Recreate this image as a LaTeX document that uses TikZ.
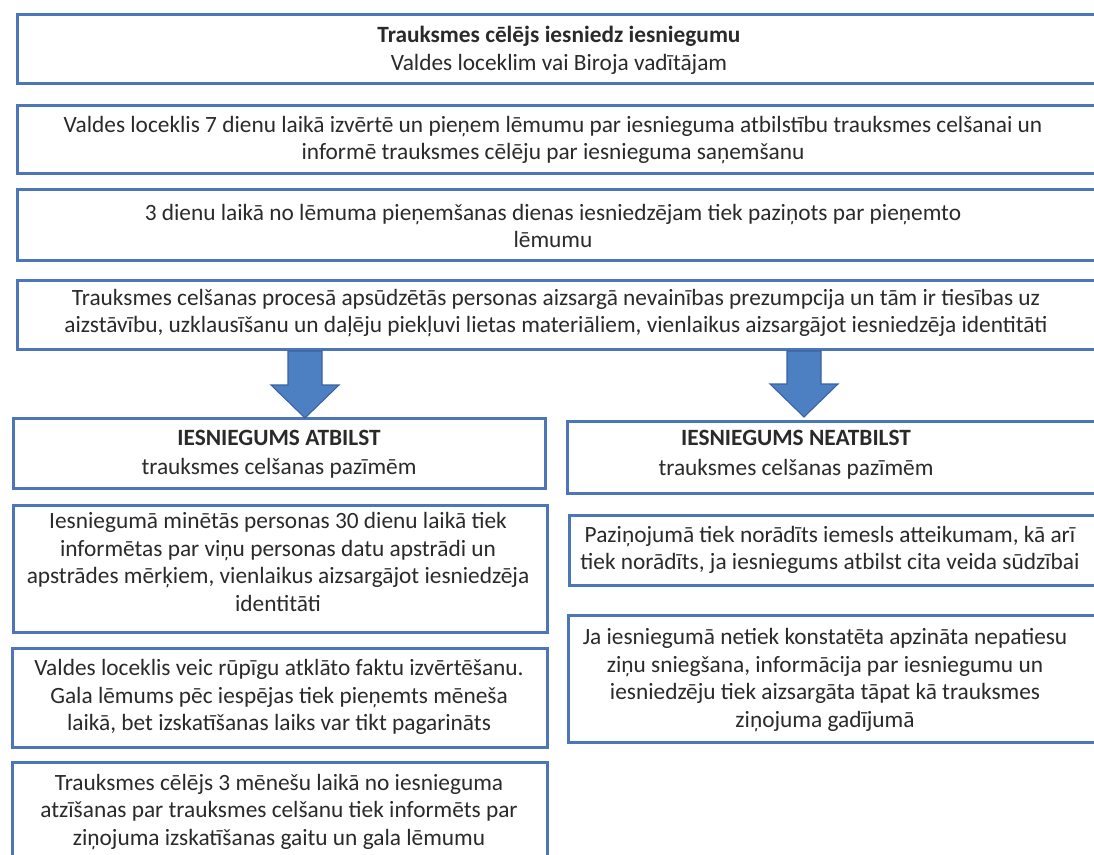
\documentclass[tikz,border=0pt]{standalone}
\usepackage{fontspec}
\setmainfont{Carlito}
\usetikzlibrary{fit}
\definecolor{boxblue}{RGB}{76,118,184}
\definecolor{arrowblue}{RGB}{76,128,194}
\definecolor{arrowedge}{RGB}{58,98,160}
\definecolor{txtc}{RGB}{42,42,42}
\begin{document}
\begin{tikzpicture}[x=0.75pt,y=-0.75pt,
  box/.style={draw=boxblue, line width=2.25pt, fill=white, inner sep=0pt},
  txt/.style={text=txtc, align=center, font=\fontsize{17.5}{20.8}\selectfont, inner sep=0pt},
  blockarrow/.style={fill=arrowblue, draw=arrowedge, line width=0.8pt, line join=miter}]
\useasboundingbox (0,0) rectangle (1094,854);
\clip (0,0) rectangle (1094,854);
\fill[white] (0,0) rectangle (1094,854);

% top boxes
\node[box, fit={(17,14) (1098,83)}] (b1) {};
\node[box, fit={(17,105) (1098,173)}] (b2) {};
\node[box, fit={(17,189) (1098,260)}] (b3) {};
\node[box, fit={(17,280) (1098,349)}] (b4) {};

% left column
\node[box, fit={(13,418) (545,488)}] (l1) {};
\node[box, fit={(13,505) (547,632)}] (l2) {};
\node[box, fit={(12,648) (547,747)}] (l3) {};
\node[box, fit={(12,762) (547,870)}] (l4) {};

% right column
\node[box, fit={(567,421) (1100,493)}] (r1) {};
\node[box, fit={(569,515) (1100,585)}] (r2) {};
\node[box, fit={(568,615) (1100,742)}] (r3) {};

% texts
\node[txt] (t1) at (559,50) {\textbf{Trauksmes cēlējs iesniedz iesniegumu}\\Valdes loceklim vai Biroja vadītājam};
\node[txt] (t2) at (553,140) {Valdes loceklis 7 dienu laikā izvērtē un pieņem lēmumu par iesnieguma atbilstību trauksmes celšanai un\\informē trauksmes cēlēju par iesnieguma saņemšanu};
\node[txt] (t3) at (553,226) {3 dienu laikā no lēmuma pieņemšanas dienas iesniedzējam tiek paziņots par pieņemto\\lēmumu};
\node[txt] (t4) at (556,313) {Trauksmes celšanas procesā apsūdzētās personas aizsargā nevainības prezumpcija un tām ir tiesības uz\\aizstāvību, uzklausīšanu un daļēju piekļuvi lietas materiāliem, vienlaikus aizsargājot iesniedzēja identitāti};

\node[txt] (tl1) at (279,454) {\textbf{IESNIEGUMS ATBILST}\\[1pt]trauksmes celšanas pazīmēm};
\node[txt] (tl2) at (278,562) {Iesniegumā minētās personas 30 dienu laikā tiek\\informētas par viņu personas datu apstrādi un\\apstrādes mērķiem, vienlaikus aizsargājot iesniedzēja\\identitāti};
\node[txt] (tl3) at (279,697) {Valdes loceklis veic rūpīgu atklāto faktu izvērtēšanu.\\Gala lēmums pēc iespējas tiek pieņemts mēneša\\laikā, bet izskatīšanas laiks var tikt pagarināts};
\node[txt] (tl4) at (279,812) {Trauksmes cēlējs 3 mēnešu laikā no iesnieguma\\atzīšanas par trauksmes celšanu tiek informēts par\\ziņojuma izskatīšanas gaitu un gala lēmumu};

\node[txt] (tr1) at (796,455) {\textbf{IESNIEGUMS NEATBILST}\\[2pt]trauksmes celšanas pazīmēm};
\node[txt] (tr2) at (830,550) {Paziņojumā tiek norādīts iemesls atteikumam, kā arī\\tiek norādīts, ja iesniegums atbilst cita veida sūdzībai};
\node[txt] (tr3) at (825,680) {Ja iesniegumā netiek konstatēta apzināta nepatiesu\\ziņu sniegšana, informācija par iesniegumu un\\iesniedzēju tiek aizsargāta tāpat kā trauksmes\\ziņojuma gadījumā};

% block arrows
\coordinate (a1) at (305,351);
\coordinate (a2) at (804,351);
\draw[blockarrow] (a1) ++(-17,0) -- ++(34,0) -- ++(0,34) -- ++(17,0) -- ++(-34,33) -- ++(-34,-33) -- ++(17,0) -- cycle;
\draw[blockarrow] (a2) ++(-17,0) -- ++(34,0) -- ++(0,33) -- ++(17,0) -- ++(-34,33) -- ++(-34,-33) -- ++(17,0) -- cycle;
\end{tikzpicture}
\end{document}
